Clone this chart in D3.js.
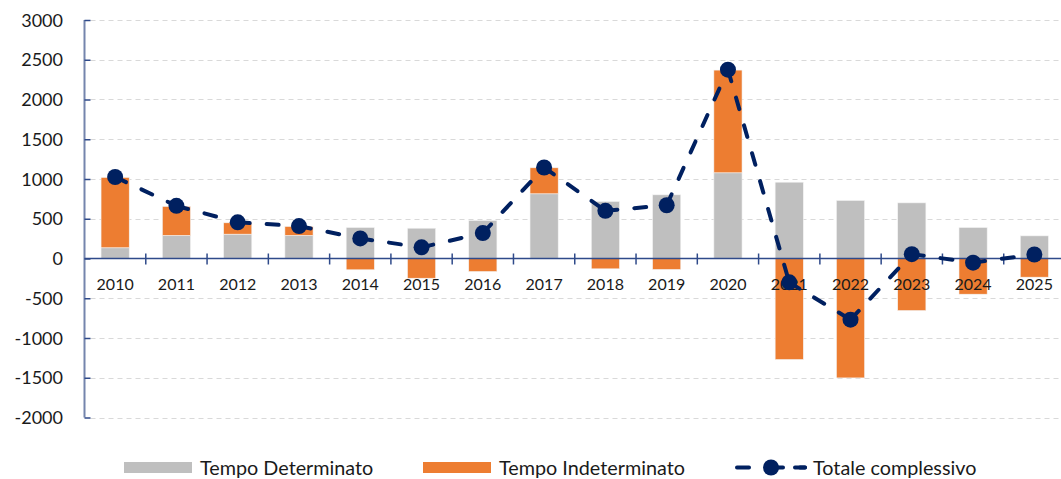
<!DOCTYPE html>
<html>
<head>
<meta charset="utf-8">
<script src="https://cdn.jsdelivr.net/npm/d3@7"></script>
<style>
  body { margin: 0; background: #fff; }
  svg { display: block; font-family: Lato, "Open Sans", sans-serif; }
</style>
</head>
<body>
<div id="chart"></div>
<script>
// values
var years = ["2010","2011","2012","2013","2014","2015","2016","2017","2018","2019","2020","2021","2022","2023","2024","2025"];
var determinato = [135, 290, 306, 290, 390, 381, 478, 814, 717, 801, 1078, 960, 730, 700, 390, 285];
var indeterminato = [885, 365, 143, 113, -142, -248, -164, 327, -130, -138, 1292, -1271, -1502, -655, -449, -235];
var totale = [1025, 662, 455, 408, 252, 140, 320, 1145, 600, 670, 2375, -300, -770, 55, -52, 50];
var yTicks = [3000, 2500, 2000, 1500, 1000, 500, 0, -500, -1000, -1500, -2000];

var svgWidth = 1061, svgHeight = 479;
var plotLeft = 84.5, plotRight = 1065, plotTop = 20, plotBottom = 417.5;

var svg = d3.select("#chart").append("svg")
    .attr("width", svgWidth)
    .attr("height", svgHeight);

var x = d3.scaleBand()
    .domain(years)
    .range([plotLeft, plotRight])
    .paddingInner(0.54)
    .paddingOuter(0.27);

var y = d3.scaleLinear()
    .domain([-2000, 3000])
    .range([plotBottom, plotTop]);

// gridlines
svg.append("g")
    .selectAll("line")
    .data(yTicks.filter(function(d) { return d !== 0; }))
    .enter().append("line")
    .attr("x1", plotLeft + 6)
    .attr("x2", svgWidth)
    .attr("y1", function(d) { return Math.round(y(d)) + 0.5; })
    .attr("y2", function(d) { return Math.round(y(d)) + 0.5; })
    .attr("stroke", "#d9d9d9")
    .attr("stroke-width", 1)
    .attr("stroke-dasharray", "5,4");

// stacked bars: positives stack up from 0, negatives down from 0
var bars = svg.append("g");
years.forEach(function(yr, i) {
    var pos = 0, neg = 0;
    [[determinato[i], "#bfbfbf"], [indeterminato[i], "#ed7d31"]].forEach(function(s) {
        var v = s[0], y0, y1;
        if (v >= 0) { y0 = pos; y1 = pos + v; pos = y1; }
        else { y0 = neg; y1 = neg + v; neg = y1; }
        bars.append("rect")
            .attr("x", x(yr))
            .attr("width", x.bandwidth())
            .attr("y", y(Math.max(y0, y1)))
            .attr("height", Math.abs(y(y0) - y(y1)))
            .attr("fill", s[1])
            .attr("stroke", "#f4f4f4")
            .attr("stroke-width", 0.6);
    });
});

// y axis
var yAxis = svg.append("g")
    .attr("transform", "translate(" + plotLeft + ",0)")
    .call(d3.axisRight(y).tickValues(yTicks).tickSize(6).tickFormat(""));
yAxis.select(".domain").attr("stroke", "#7585ad").attr("stroke-width", 2).attr("d", "M0," + plotTop + "V" + plotBottom);
yAxis.selectAll(".tick line").attr("stroke", "#2f4a8a").attr("stroke-width", 1.5);

svg.append("g")
    .selectAll("text")
    .data(yTicks)
    .enter().append("text")
    .attr("x", 63)
    .attr("y", function(d) { return y(d) + 6.5; })
    .attr("text-anchor", "end")
    .attr("font-size", 18)
    .attr("fill", "#1a1a1a")
    .text(function(d) { return d; });

// x axis at zero
var xg = svg.append("g");
xg.append("line")
    .attr("x1", plotLeft).attr("x2", svgWidth)
    .attr("y1", y(0)).attr("y2", y(0))
    .attr("stroke", "#2f4a8a").attr("stroke-width", 1.5);
xg.selectAll(".xtick")
    .data(years.slice(1))
    .enter().append("line")
    .attr("x1", function(d) { return x(d) - x.step() * x.paddingInner() / 2; })
    .attr("x2", function(d) { return x(d) - x.step() * x.paddingInner() / 2; })
    .attr("y1", y(0) - 5).attr("y2", y(0) + 6)
    .attr("stroke", "#2f4a8a").attr("stroke-width", 1.5);
xg.selectAll("text")
    .data(years)
    .enter().append("text")
    .attr("x", function(d) { return x(d) + x.bandwidth() / 2; })
    .attr("y", y(0) + 31)
    .attr("text-anchor", "middle")
    .attr("font-size", 16)
    .attr("fill", "#1a1a1a")
    .text(function(d) { return d; });

// totale line: dash pattern restarts at each point
var cx = function(i) { return x(years[i]) + x.bandwidth() / 2; };
var line = d3.line()
    .x(function(d) { return cx(d); })
    .y(function(d) { return y(totale[d]); });
var lg = svg.append("g");
for (var i = 0; i < totale.length - 1; i++) {
    lg.append("path")
        .datum([i, i + 1])
        .attr("d", line)
        .attr("fill", "none")
        .attr("stroke", "#002060")
        .attr("stroke-width", 4)
        .attr("stroke-linecap", "round")
        .attr("stroke-dasharray", "12,17");
}
lg.selectAll("circle")
    .data(totale)
    .enter().append("circle")
    .attr("cx", function(d, i) { return cx(i); })
    .attr("cy", function(d) { return y(d); })
    .attr("r", 8)
    .attr("fill", "#002060");

// legend
var leg = svg.append("g").attr("font-size", 19.8).attr("fill", "#1a1a1a");
leg.append("rect").attr("x", 124).attr("y", 462).attr("width", 68).attr("height", 11).attr("fill", "#bfbfbf");
leg.append("text").attr("x", 200).attr("y", 475).text("Tempo Determinato");
leg.append("rect").attr("x", 423).attr("y", 462).attr("width", 68).attr("height", 11).attr("fill", "#ed7d31");
leg.append("text").attr("x", 499).attr("y", 475).text("Tempo Indeterminato");
leg.append("path")
    .attr("d", "M737,467.5H805")
    .attr("stroke", "#002060").attr("stroke-width", 4)
    .attr("stroke-linecap", "round").attr("stroke-dasharray", "12,17");
leg.append("path")
    .attr("d", "M771,467.5H805")
    .attr("stroke", "#002060").attr("stroke-width", 4)
    .attr("stroke-linecap", "round").attr("stroke-dasharray", "12,17");
leg.append("circle").attr("cx", 771).attr("cy", 467.5).attr("r", 8).attr("fill", "#002060");
leg.append("text").attr("x", 813).attr("y", 475).text("Totale complessivo");
</script>
</body>
</html>
